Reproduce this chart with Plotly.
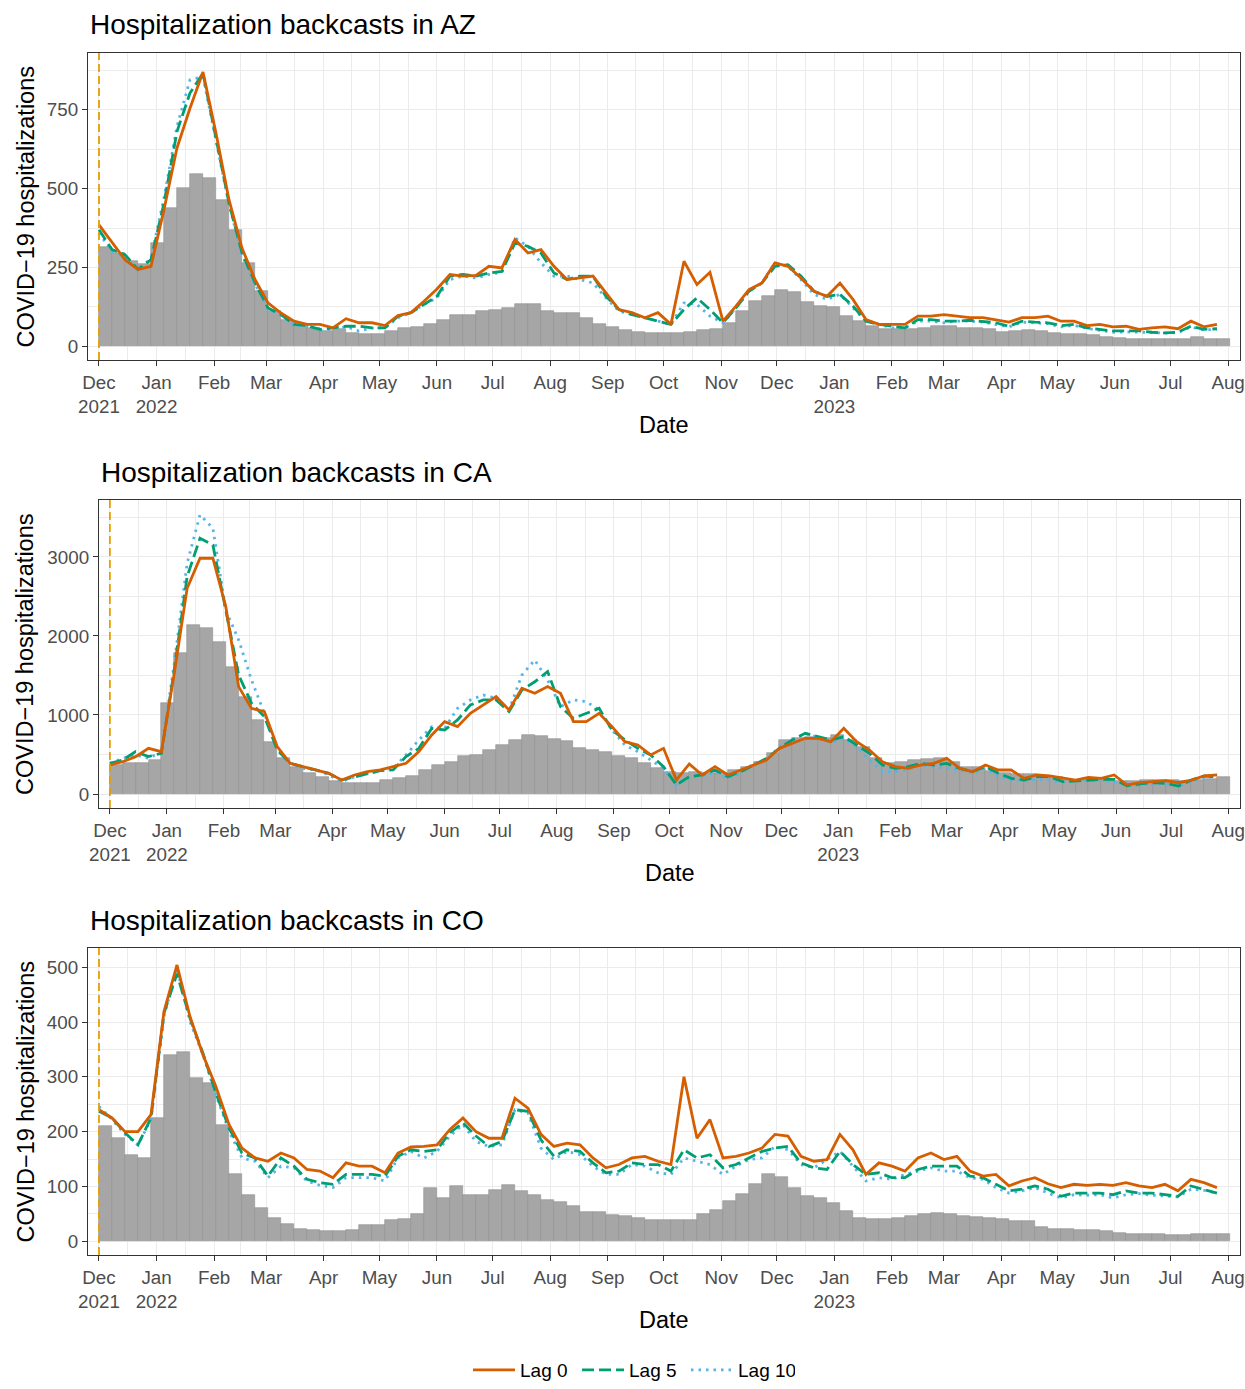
import plotly.graph_objects as go
import pandas as pd

# ---------------- data (weekly readings, week starting dates) ----------------
weeks = pd.date_range("2021-12-01", periods=87, freq="7D")

az_obs = [315, 296, 270, 260, 328, 439, 502, 547, 534, 465, 370, 265, 175, 112, 83, 64, 59, 49, 54, 43, 38, 40,
          49, 59, 62, 70, 85, 99, 101, 112, 115, 122, 133, 136, 112, 107, 107, 91, 70, 61, 52, 47, 42, 43,
          43, 45, 51, 54, 75, 112, 143, 161, 178, 172, 140, 128, 126, 96, 80, 64, 56, 54, 56, 59, 64, 64, 59,
          59, 55, 45, 49, 52, 49, 43, 41, 38, 36, 31, 27, 25, 25, 25, 24, 22, 31, 24, 22]
az_lag0 = [385, 330, 275, 244, 254, 433, 629, 755, 870, 676, 465, 312, 212, 138, 106, 80, 70, 70, 59, 88, 75, 75,
           66, 98, 107, 143, 182, 228, 223, 225, 254, 249, 339, 296, 307, 254, 212, 217, 223, 170, 117, 107, 91, 107,
           70, 270, 196, 235, 80, 128, 180, 201, 265, 254, 217, 175, 159, 201, 149, 85, 70, 70, 70, 96, 96, 101, 96,
           91, 91, 85, 77, 91, 91, 96, 80, 80, 66, 70, 62, 64, 54, 59, 62, 56, 80, 62, 70]
az_lag5 = [370, 307, 291, 244, 275, 454, 681, 803, 866, 655, 454, 297, 202, 122, 101, 70, 66, 54, 59, 64, 64, 59,
           59, 96, 107, 133, 159, 223, 228, 223, 233, 238, 328, 317, 296, 233, 212, 223, 223, 159, 117, 101, 91, 80,
           70, 117, 154, 117, 75, 122, 175, 201, 254, 259, 223, 175, 159, 165, 128, 80, 70, 64, 59, 85, 85, 80, 80,
           83, 80, 75, 64, 80, 77, 75, 66, 70, 59, 54, 49, 49, 49, 45, 43, 45, 64, 54, 56]
az_lag10 = [360, 300, 285, 240, 280, 470, 697, 845, 855, 650, 450, 290, 198, 120, 98, 68, 64, 50, 57, 62, 49, 58,
            59, 91, 107, 133, 154, 212, 223, 217, 228, 235, 344, 317, 265, 223, 223, 212, 201, 154, 112, 101, 91, 80,
            70, 138, 133, 96, 75, 122, 175, 201, 265, 254, 212, 165, 149, 165, 122, 80, 70, 59, 59, 80, 80, 75, 80,
            80, 77, 70, 62, 77, 74, 72, 62, 67, 57, 50, 45, 46, 46, 44, 42, 44, 62, 52, 55]

ca_obs = [367, 388, 388, 430, 1148, 1780, 2139, 2097, 1928, 1612, 1232, 937, 662, 451, 346, 262, 219, 169, 135, 135, 143, 177,
          198, 228, 304, 367, 409, 481, 494, 557, 620, 684, 747, 734, 696, 675, 586, 557, 536, 481, 451, 388, 325, 283, 262,
          283, 262, 262, 304, 346, 409, 515, 684, 705, 718, 705, 747, 684, 599, 451, 388, 409, 430, 439, 451, 409, 346, 346,
          295, 262, 253, 253, 228, 211, 177, 177, 186, 177, 169, 169, 177, 177, 177, 169, 177, 194, 211]
ca_lag0 = [367, 409, 473, 578, 536, 1527, 2603, 2983, 2983, 2371, 1359, 1084, 1042, 599, 388, 346, 304, 262, 177, 241, 283, 304,
           346, 388, 536, 747, 916, 852, 1021, 1127, 1232, 1063, 1338, 1274, 1359, 1274, 916, 916, 1021, 852, 662, 620, 494, 578, 177,
           380, 241, 346, 241, 304, 367, 430, 578, 641, 705, 705, 662, 831, 662, 557, 409, 346, 325, 367, 388, 451, 325, 283,
           367, 304, 304, 198, 241, 228, 198, 177, 211, 198, 241, 114, 143, 156, 169, 143, 177, 228, 241]
ca_lag5 = [388, 430, 536, 473, 515, 1570, 2751, 3236, 3150, 2329, 1506, 1148, 979, 557, 388, 346, 304, 262, 177, 219, 262, 295,
           304, 473, 578, 831, 810, 937, 1127, 1190, 1190, 1042, 1316, 1420, 1550, 1105, 958, 1021, 1084, 810, 684, 578, 494, 346, 114,
           219, 241, 304, 219, 283, 367, 451, 578, 684, 768, 726, 684, 726, 620, 515, 367, 325, 346, 388, 367, 388, 325, 283,
           346, 262, 198, 177, 219, 219, 156, 169, 177, 186, 186, 105, 127, 143, 135, 101, 177, 228, 219]
ca_lag10 = [388, 451, 494, 451, 536, 1654, 2920, 3532, 3363, 2329, 1949, 1443, 1021, 578, 388, 325, 304, 241, 156, 219, 262, 295,
            325, 494, 684, 852, 831, 1084, 1190, 1253, 1211, 1063, 1506, 1696, 1443, 1105, 1190, 1169, 1063, 810, 620, 536, 430, 325, 114,
            219, 219, 283, 198, 262, 388, 430, 599, 684, 768, 718, 641, 705, 599, 430, 283, 283, 304, 367, 346, 325, 304, 262,
            325, 219, 177, 169, 186, 177, 143, 169, 169, 169, 156, 105, 114, 127, 127, 101, 156, 211, 219]

co_obs = [210, 188, 158, 152, 225, 340, 346, 298, 288, 213, 122, 85, 61, 43, 31, 22, 20, 18, 18, 20, 29, 29,
          38, 40, 50, 98, 79, 101, 85, 85, 93, 102, 92, 85, 75, 72, 64, 53, 53, 48, 46, 42, 38, 38,
          38, 38, 49, 58, 73, 87, 104, 122, 118, 98, 82, 79, 70, 55, 43, 40, 40, 42, 46, 50, 52, 49, 46,
          44, 43, 40, 37, 37, 26, 23, 23, 21, 21, 19, 15, 13, 14, 14, 11, 12, 13, 14, 14]
co_lag0 = [240, 225, 200, 200, 231, 419, 504, 410, 340, 282, 213, 170, 152, 146, 161, 152, 131, 128, 116, 143, 137, 137,
           125, 161, 172, 173, 176, 204, 225, 200, 188, 188, 261, 243, 195, 173, 179, 176, 152, 134, 140, 152, 155, 146,
           140, 300, 188, 222, 152, 155, 161, 170, 195, 192, 155, 146, 149, 195, 167, 122, 143, 137, 128, 152, 161, 149, 155,
           128, 119, 122, 101, 110, 116, 105, 98, 104, 102, 104, 102, 107, 101, 98, 104, 92, 113, 107, 98]
co_lag5 = [237, 225, 198, 176, 225, 416, 488, 407, 343, 270, 207, 161, 152, 119, 152, 137, 113, 107, 104, 122, 122, 122,
           119, 155, 167, 164, 167, 198, 216, 192, 173, 182, 240, 237, 185, 155, 167, 164, 143, 125, 128, 143, 140, 140,
           128, 167, 152, 158, 134, 140, 152, 164, 170, 173, 143, 134, 131, 164, 140, 122, 125, 116, 116, 131, 137, 137, 137,
           119, 116, 104, 92, 95, 101, 95, 82, 88, 88, 88, 85, 92, 88, 88, 85, 82, 101, 95, 88]
co_lag10 = [246, 222, 195, 176, 222, 410, 498, 401, 340, 267, 201, 152, 146, 116, 137, 134, 110, 102, 98, 116, 116, 116,
            110, 152, 164, 152, 164, 192, 213, 182, 173, 176, 240, 234, 170, 149, 164, 158, 137, 122, 122, 140, 137, 125,
            122, 152, 146, 140, 122, 137, 149, 152, 173, 167, 140, 134, 149, 164, 137, 110, 116, 113, 122, 128, 134, 128, 128,
            116, 113, 98, 88, 92, 98, 88, 79, 85, 84, 85, 79, 85, 87, 84, 82, 81, 95, 93, 88]

states = ["AZ", "CA", "CO"]
lag_names = ["Lag 0", "Lag 5", "Lag 10"]
y_major = [[0, 250, 500, 750], [0, 1000, 2000, 3000], [0, 100, 200, 300, 400, 500]]
y_minor = [[125, 375, 625, 875], [500, 1500, 2500, 3500], [50, 150, 250, 350, 450]]
y_ranges = [[-43, 930], [-177, 3720], [-25, 535]]
forecast_start = "2021-12-01"

# ---------------- layout geometry (pixels) ----------------
W, H = 1245, 1389
FONT = "Liberation Sans, Arial, Helvetica, sans-serif"
panels_px = [  # x0, x1, y_top, y_bottom
    (88, 1240, 53, 360),
    (99, 1240, 500, 808),
    (88, 1240, 948, 1255),
]
title_y = [25, 472, 920]
date_title_y = [425, 873, 1320]

def fx(p):
    return p / W

def fy(p):
    return 1 - p / H

months = pd.date_range("2021-12-01", "2023-08-01", freq="MS")
ticktext = []
for i, m in enumerate(months):
    lab = m.strftime("%b")
    if i == 0 or m.month == 1:
        lab += "<br>" + str(m.year)
    ticktext.append(lab)
mids = [months[i] + (months[i + 1] - months[i]) / 2 for i in range(len(months) - 1)]
x_range = [pd.Timestamp("2021-11-25 02:00"), pd.Timestamp("2023-08-07 10:00")]

colors = {"Lag 0": "#D55E00", "Lag 5": "#009E73", "Lag 10": "#56B4E9"}
dashes = {"Lag 0": "solid", "Lag 5": "12px,5px", "Lag 10": "2.5px,5px"}

data_sets = [
    (az_obs, az_lag0, az_lag5, az_lag10),
    (ca_obs, ca_lag0, ca_lag5, ca_lag10),
    (co_obs, co_lag0, co_lag5, co_lag10),
]

fig = go.Figure()
annotations = []
shapes = []
week_ms = 7 * 24 * 3600 * 1000

for i, (obs, l0, l5, l10) in enumerate(data_sets):
    xa = "x" if i == 0 else f"x{i+1}"
    ya = "y" if i == 0 else f"y{i+1}"
    fig.add_trace(go.Bar(x=weeks, y=obs, width=week_ms, offset=0,
                         marker=dict(color="#A6A6A6", line=dict(color="#8E8E8E", width=0.6)),
                         showlegend=False, xaxis=xa, yaxis=ya, hoverinfo="skip"))
    series = {"Lag 0": l0, "Lag 5": l5, "Lag 10": l10}
    for name, rank in (("Lag 10", 3), ("Lag 5", 2), ("Lag 0", 1)):
        fig.add_trace(go.Scatter(x=weeks, y=series[name], mode="lines", name=name,
                                 line=dict(color=colors[name], width=2.8, dash=dashes[name]),
                                 showlegend=(i == 0), legendrank=rank,
                                 xaxis=xa, yaxis=ya))
    x0, x1, yt, yb = panels_px[i]
    axis_common = dict(showline=True, linecolor="#333333", linewidth=1.2, mirror=True,
                       gridcolor="#EBEBEB", gridwidth=1.1, ticks="outside", ticklen=5,
                       tickcolor="#333333", tickwidth=1.1, zeroline=False,
                       tickfont=dict(family=FONT, size=18.8, color="#4D4D4D"),
                       automargin=False)
    fig.layout[("xaxis" if i == 0 else f"xaxis{i+1}")] = dict(
        axis_common, domain=[fx(x0), fx(x1)], anchor=ya, type="date", range=x_range,
        tickmode="array", tickvals=list(months), ticktext=ticktext,
        minor=dict(tickmode="array", tickvals=mids, showgrid=True, gridcolor="#EBEBEB",
                   gridwidth=0.6, ticks=""))
    fig.layout[("yaxis" if i == 0 else f"yaxis{i+1}")] = dict(
        axis_common, domain=[fy(yb), fy(yt)], anchor=xa, range=y_ranges[i],
        tickmode="array", tickvals=y_major[i], ticktext=[str(v) for v in y_major[i]],
        minor=dict(tickmode="array", tickvals=y_minor[i], showgrid=True, gridcolor="#EBEBEB",
                   gridwidth=0.6, ticks=""))
    shapes.append(dict(type="line", xref=xa, yref=f"{ya} domain", x0=forecast_start, x1=forecast_start,
                       y0=0, y1=1, line=dict(color="#E69F00", width=1.8, dash="8px,4px"), layer="above"))
    annotations.append(dict(text=f"Hospitalization backcasts in {states[i]}", xref="paper", yref="paper",
                            x=fx(x0), y=fy(title_y[i]), xanchor="left", yanchor="middle", showarrow=False,
                            font=dict(family=FONT, size=28, color="black")))
    annotations.append(dict(text="Date", xref="paper", yref="paper", x=fx((x0 + x1) / 2),
                            y=fy(date_title_y[i]), xanchor="center", yanchor="middle", showarrow=False,
                            font=dict(family=FONT, size=23.5, color="black")))
    annotations.append(dict(text="COVID\u221219 hospitalizations", xref="paper", yref="paper", x=fx(25),
                            y=fy((yt + yb) / 2), xanchor="center", yanchor="middle", textangle=-90,
                            showarrow=False, font=dict(family=FONT, size=23.5, color="black")))

fig.update_layout(
    width=W, height=H, margin=dict(l=0, r=0, t=0, b=0),
    paper_bgcolor="white", plot_bgcolor="white",
    bargap=0, barmode="overlay",
    annotations=annotations, shapes=shapes,
    font=dict(family=FONT),
    legend=dict(orientation="h", x=fx(468), xanchor="left", y=0, yanchor="bottom",
                font=dict(family=FONT, size=19, color="black"), traceorder="normal",
                itemwidth=42, entrywidth=52, entrywidthmode="pixels", bgcolor="rgba(0,0,0,0)"),
)

fig.write_html("out.html", config={"displayModeBar": False},
               post_script="document.body.style.margin='0';document.body.style.overflow='hidden';")
